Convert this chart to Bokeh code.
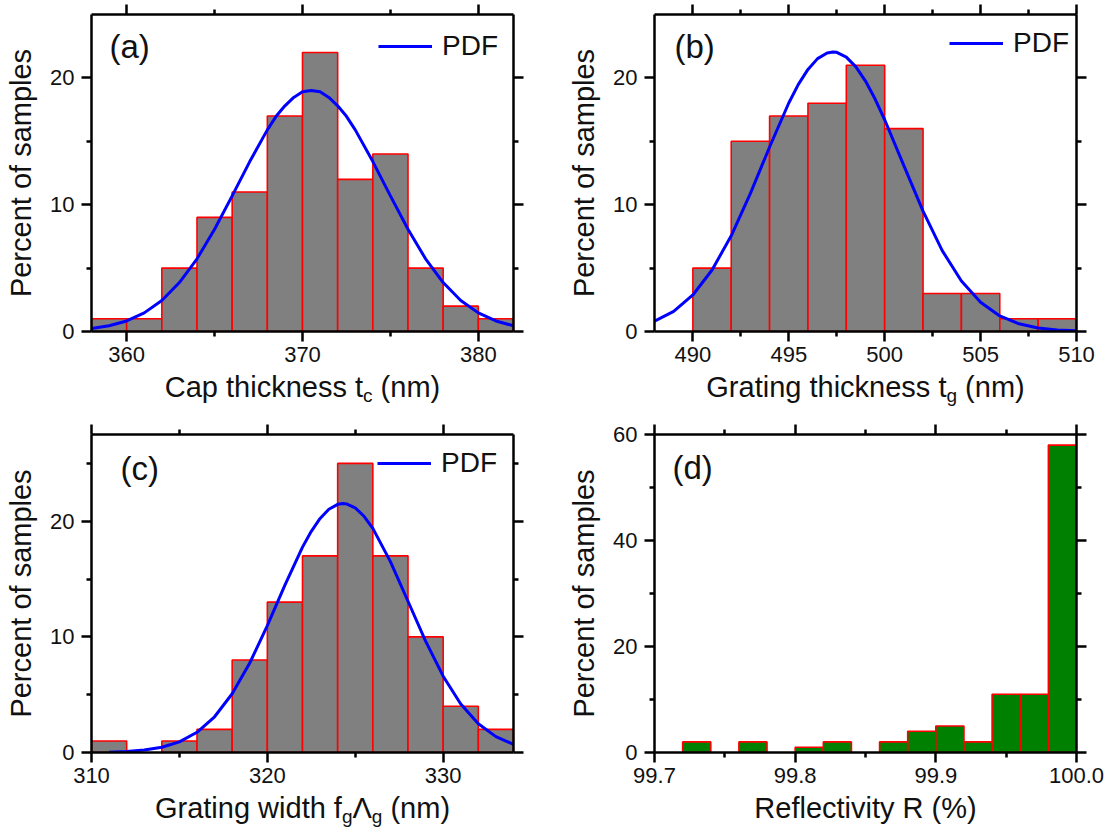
from bokeh.plotting import figure
from bokeh.models import (LinearAxis, FixedTicker, Range1d, Label, Legend,
                          LegendItem, PrintfTickFormatter)
from bokeh.layouts import column, row
from bokeh.core.properties import value
from bokeh.embed import file_html
from bokeh.resources import INLINE

FONT = "Liberation Sans"

# ---------------- data ----------------
# (a) cap thickness histogram, bin width 2 nm
a_left = [358, 360, 362, 364, 366, 368, 370, 372, 374, 376, 378, 380]
a_right = [360, 362, 364, 366, 368, 370, 372, 374, 376, 378, 380, 382]
a_pct = [1, 1, 5, 9, 11, 17, 22, 12, 14, 5, 2, 1]
a_pdf_x = [358, 359, 360, 361, 362, 363, 364, 365, 366, 367, 368, 368.5, 369, 369.5,
           370, 370.5, 371, 371.5, 372, 372.5, 373, 374, 375, 376, 377, 378, 379, 380, 381, 382]
a_pdf_y = [0.23, 0.45, 0.83, 1.47, 2.45, 3.86, 5.73, 8.06, 10.7, 13.4, 15.9, 16.97, 17.8, 18.46,
           18.9, 19.0, 18.9, 18.46, 17.8, 16.97, 15.9, 13.4, 10.7, 8.06, 5.73, 3.86, 2.45, 1.47, 0.83, 0.45]

# (b) grating thickness histogram
b_left = [490, 492, 494, 496, 498, 500, 502, 504, 506, 508]
b_right = [492, 494, 496, 498, 500, 502, 504, 506, 508, 510]
b_pct = [5, 15, 17, 18, 21, 16, 3, 3, 1, 1]
b_pdf_x = [488, 489, 490, 491, 492, 493, 494, 495, 495.5, 496, 496.5, 497, 497.3, 497.5, 498,
           498.5, 499, 499.5, 500, 501, 502, 503, 504, 505, 506, 507, 508, 509, 510]
b_pdf_y = [0.81, 1.59, 2.88, 4.85, 7.55, 10.89, 14.55, 18.02, 19.49, 20.67, 21.52, 21.97, 22.05, 22.02, 21.64,
           20.87, 19.75, 18.33, 16.70, 13.08, 9.49, 6.38, 3.98, 2.30, 1.23, 0.61, 0.28, 0.12, 0.05]

# (c) grating width histogram
c_left = [310, 312, 314, 316, 318, 320, 322, 324, 326, 328, 330, 332]
c_right = [312, 314, 316, 318, 320, 322, 324, 326, 328, 330, 332, 334]
c_pct = [1, 0, 1, 2, 8, 13, 17, 25, 17, 10, 4, 2]
c_pdf_x = [311, 312, 313, 314, 315, 316, 317, 318, 319, 320, 321, 322, 322.5, 323, 323.5,
           324, 324.3, 324.5, 325, 325.5, 326, 327, 328, 329, 330, 331, 332, 333, 334]
c_pdf_y = [0.03, 0.09, 0.21, 0.45, 0.92, 1.75, 3.09, 5.08, 7.74, 10.98, 14.48, 17.76, 19.13, 20.24, 21.03,
           21.46, 21.53, 21.50, 21.15, 20.43, 19.38, 16.51, 13.08, 9.63, 6.60, 4.20, 2.49, 1.37, 0.70]

# (d) reflectivity histogram, bin width 0.02 %
d_left = [99.70, 99.72, 99.74, 99.76, 99.78, 99.80, 99.82, 99.84, 99.86, 99.88, 99.90, 99.92, 99.94, 99.96, 99.98]
d_right = [99.72, 99.74, 99.76, 99.78, 99.80, 99.82, 99.84, 99.86, 99.88, 99.90, 99.92, 99.94, 99.96, 99.98, 100.00]
d_pct = [0, 2, 0, 2, 0, 1, 2, 0, 2, 4, 5, 2, 11, 11, 58]

# ticks
a_xmajor, a_xminor = [360, 370, 380], [365, 375]
b_xmajor, b_xminor = [490, 495, 500, 505, 510], [492.5, 497.5, 502.5, 507.5]
c_xmajor, c_xminor = [310, 320, 330], [315, 325]
d_xmajor, d_xminor = [99.7, 99.8, 99.9, 100.0], [99.75, 99.85, 99.95]
ab_ymajor, ab_yminor = [0, 10, 20], [5, 15]
c_ymajor, c_yminor = [0, 10, 20], [5, 15, 25]
d_ymajor, d_yminor = [0, 20, 40, 60], [10, 30, 50]

Y_TITLE = "Percent of samples"
a_xtitle = [("Cap thickness t", False), ("c", True), (" (nm)", False)]
b_xtitle = [("Grating thickness t", False), ("g", True), (" (nm)", False)]
c_xtitle = [("Grating width f", False), ("g", True), ("\u039b", False), ("g", True), (" (nm)", False)]
d_xtitle = [("Reflectivity R (%)", False)]

# ---------------- styling helpers ----------------
MAIN_SIZE = 29
SUB_SIZE = 19
CW = {' ': 278, '(': 333, ')': 333, '%': 889, 'C': 722, 'G': 778, 'R': 722,
      'a': 556, 'c': 500, 'd': 556, 'e': 556, 'f': 278, 'g': 556, 'h': 556,
      'i': 222, 'k': 500, 'l': 222, 'm': 833, 'n': 556, 'p': 556, 'r': 333,
      's': 500, 't': 278, 'v': 500, 'w': 722, 'y': 500, '\u039b': 667}


def tw(s, size):
    return sum(CW.get(ch, 556) for ch in s) * size / 1000.0


def style_axis(ax, major, minor, labels=True, standoff=6):
    ax.ticker = FixedTicker(ticks=major, minor_ticks=minor)
    ax.axis_line_width = 2.5
    ax.axis_line_color = "black"
    ax.major_tick_line_width = 2.5
    ax.minor_tick_line_width = 2.5
    ax.major_tick_line_color = "black"
    ax.minor_tick_line_color = "black"
    ax.major_tick_out = 10
    ax.major_tick_in = 0
    ax.minor_tick_out = 5
    ax.minor_tick_in = 0
    ax.major_label_text_font = FONT
    if labels:
        ax.major_label_text_font_size = "22px"
        ax.major_label_text_color = "#111111"
        ax.major_label_standoff = standoff
    else:
        ax.major_label_text_font_size = "1px"
        ax.major_label_text_color = None
        ax.major_label_standoff = 0


def make_plot(w, h, borders, xr, yr, xt, yt, left, right, pct, fill,
              tag, tag_off, pdf=None, legend_loc=None, xfmt=None):
    bl, br, bt, bb = borders
    p = figure(width=w, height=h, x_range=Range1d(*xr), y_range=Range1d(*yr), title=None,
               output_backend="svg", toolbar_location=None,
               min_border_left=bl, min_border_right=br, min_border_top=bt, min_border_bottom=bb)
    p.outline_line_color = None
    p.xgrid.visible = False
    p.ygrid.visible = False
    p.background_fill_color = "white"
    p.border_fill_color = "white"

    L = [l for l, v in zip(left, pct) if v > 0]
    R = [r for r, v in zip(right, pct) if v > 0]
    T = [v for v in pct if v > 0]
    p.quad(left=L, right=R, top=T, bottom=0, fill_color=fill, line_color="#ff0000", line_width=1.6)

    if pdf is not None:
        r = p.line(pdf[0], pdf[1], line_color="#0000ff", line_width=3)
        leg = Legend(items=[LegendItem(label="PDF", renderers=[r])], location=legend_loc,
                     border_line_color=None, background_fill_alpha=0, padding=0, margin=0,
                     spacing=0, glyph_width=54, glyph_height=20, label_standoff=10,
                     label_text_font=FONT, label_text_font_size="28px", label_text_color="#111111")
        p.add_layout(leg)

    style_axis(p.xaxis[0], *xt, standoff=5)
    style_axis(p.yaxis[0], *yt, standoff=7)
    if xfmt is not None:
        p.xaxis[0].formatter = xfmt
    top_ax = LinearAxis()
    style_axis(top_ax, *xt, labels=False)
    p.add_layout(top_ax, "above")
    right_ax = LinearAxis()
    style_axis(right_ax, *yt, labels=False)
    p.add_layout(right_ax, "right")

    p.yaxis[0].axis_label = Y_TITLE
    p.yaxis[0].axis_label_text_font = FONT
    p.yaxis[0].axis_label_text_font_size = "%dpx" % MAIN_SIZE
    p.yaxis[0].axis_label_text_font_style = "normal"
    p.yaxis[0].axis_label_text_color = "#111111"
    p.yaxis[0].axis_label_standoff = 10

    p.add_layout(Label(x=xr[0], y=yr[1], x_offset=tag_off[0], y_offset=-tag_off[1],
                       text=tag, text_font=FONT, text_font_size="33px", text_color="#111111",
                       text_align="left", text_baseline="middle"))
    return p


def make_title(w, h, bl, br, ypos, pieces):
    fw = w - bl - br
    t = figure(width=w, height=h, x_range=Range1d(0, fw), y_range=Range1d(0, h), title=None,
               output_backend="svg", toolbar_location=None, x_axis_type=None, y_axis_type=None,
               min_border_left=bl, min_border_right=br, min_border_top=0, min_border_bottom=0)
    t.outline_line_color = None
    t.xgrid.visible = False
    t.ygrid.visible = False
    widths = [tw(s, SUB_SIZE if sub else MAIN_SIZE) for s, sub in pieces]
    x = fw / 2.0 - sum(widths) / 2.0
    for (s, sub), wd in zip(pieces, widths):
        size = SUB_SIZE if sub else MAIN_SIZE
        txt = s.lstrip(" ")
        lead = tw(s[:len(s) - len(txt)], size)
        t.text(x=[x + lead], y=[ypos - (9 if sub else 0)], text=[txt],
               text_font=value(FONT), text_font_size=value("%dpx" % size),
               text_color="#111111", text_align="left", text_baseline="alphabetic")
        x += wd
    return t


ROW1_PLOT_H, ROW1_TITLE_H = 372, 45
ROW2_PLOT_H, ROW2_TITLE_H = 376, 40

pa = make_plot(557, ROW1_PLOT_H, (91, 44, 14, 41), (358, 382), (0, 25),
               (a_xmajor, a_xminor), (ab_ymajor, ab_yminor), a_left, a_right, a_pct, "#808080",
               "(a)", (18, 32), pdf=(a_pdf_x, a_pdf_y), legend_loc=(287, 269))
pb = make_plot(557, ROW1_PLOT_H, (97, 38, 14, 41), (488, 510), (0, 25),
               (b_xmajor, b_xminor), (ab_ymajor, ab_yminor), b_left, b_right, b_pct, "#808080",
               "(b)", (20, 32), pdf=(b_pdf_x, b_pdf_y), legend_loc=(295, 272))
pc = make_plot(557, ROW2_PLOT_H, (91, 44, 17, 41), (310, 334), (0, 27.5),
               (c_xmajor, c_xminor), (c_ymajor, c_yminor), c_left, c_right, c_pct, "#808080",
               "(c)", (29, 34), pdf=(c_pdf_x, c_pdf_y), legend_loc=(286, 273))
pd_ = make_plot(557, ROW2_PLOT_H, (97, 38, 17, 41), (99.7, 100.0), (0, 60),
                (d_xmajor, d_xminor), (d_ymajor, d_yminor), d_left, d_right, d_pct, "#008000",
                "(d)", (18, 33), xfmt=PrintfTickFormatter(format="%.1f"))

ta = make_title(557, ROW1_TITLE_H, 91, 44, 31, a_xtitle)
tb = make_title(557, ROW1_TITLE_H, 97, 38, 31, b_xtitle)
tc = make_title(557, ROW2_TITLE_H, 91, 44, 26, c_xtitle)
td = make_title(557, ROW2_TITLE_H, 97, 38, 26, d_xtitle)

layout = column(row(column(pa, ta), column(pb, tb)), row(column(pc, tc), column(pd_, td)))
open("out.html", "w").write(file_html(layout, INLINE))
